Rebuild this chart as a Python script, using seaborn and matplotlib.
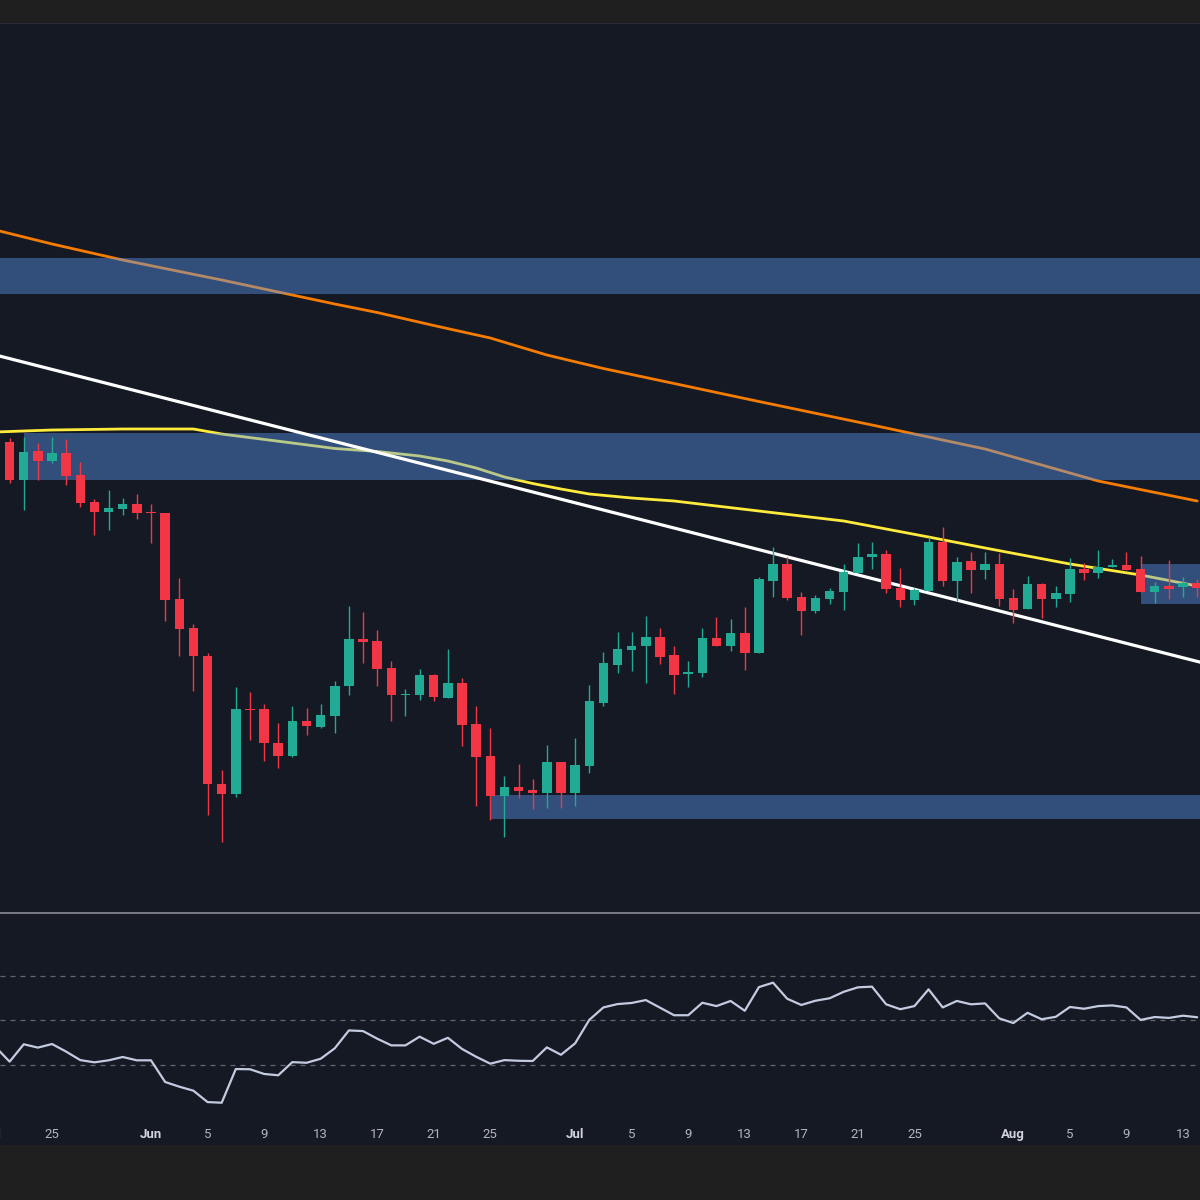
import pandas as pd
import matplotlib.pyplot as plt
import matplotlib.dates as mdates
from matplotlib.patches import Rectangle
from matplotlib.lines import Line2D
import seaborn as sns

# daily candles, May 21 -> Aug 14
dates = pd.date_range("2024-05-21", "2024-08-14", freq="D")

opens = [5.52, 5.58, 5.20, 5.49, 5.39, 5.47, 5.25, 4.98, 4.88, 4.91, 4.96, 4.88,
         4.87, 4.01, 3.72, 3.44, 2.16, 2.06, 2.91, 2.91, 2.57, 2.44, 2.79, 2.73,
         2.84, 3.14, 3.61, 3.59, 3.32, 3.05, 3.05, 3.25, 3.02, 3.17, 2.76, 2.44,
         2.04, 2.13, 2.10, 2.07, 2.38, 2.07, 2.34, 2.97, 3.35, 3.50, 3.54, 3.63,
         3.45, 3.26, 3.27, 3.62, 3.54, 3.67, 3.47, 4.19, 4.36, 4.03, 3.89, 4.01,
         4.08, 4.27, 4.43, 4.46, 4.12, 4.00, 4.09, 4.58, 4.19, 4.39, 4.30, 4.36,
         4.02, 3.91, 4.16, 4.01, 4.06, 4.31, 4.27, 4.33, 4.35, 4.31, 4.08, 4.14,
         4.13, 4.17]
highs = [5.70, 5.62, 5.63, 5.57, 5.63, 5.61, 5.38, 5.01, 5.10, 5.02, 5.06, 4.96,
         4.87, 4.22, 3.76, 3.47, 2.30, 3.13, 3.08, 2.96, 2.77, 2.94, 2.92, 2.96,
         3.19, 3.94, 3.88, 3.70, 3.39, 3.11, 3.31, 3.26, 3.51, 3.22, 2.94, 2.72,
         2.24, 2.36, 2.21, 2.55, 2.38, 2.62, 3.15, 3.48, 3.68, 3.68, 3.84, 3.72,
         3.54, 3.39, 3.72, 3.83, 3.81, 3.93, 4.23, 4.53, 4.43, 4.08, 4.05, 4.12,
         4.36, 4.57, 4.58, 4.50, 4.32, 4.12, 4.63, 4.73, 4.43, 4.48, 4.48, 4.47,
         4.11, 4.24, 4.17, 4.14, 4.42, 4.37, 4.50, 4.41, 4.48, 4.44, 4.18, 4.40,
         4.23, 4.21]
lows = [5.48, 5.17, 4.90, 5.20, 5.37, 5.15, 4.93, 4.65, 4.70, 4.85, 4.81, 4.57,
        3.79, 3.44, 3.09, 1.85, 1.58, 2.03, 2.60, 2.39, 2.32, 2.43, 2.65, 2.72,
        2.67, 3.05, 3.37, 3.14, 2.79, 2.84, 3.00, 2.99, 3.02, 2.54, 1.94, 1.80,
        1.63, 2.02, 1.91, 1.92, 1.92, 1.94, 2.27, 2.94, 3.27, 3.29, 3.17, 3.36,
        3.06, 3.13, 3.23, 3.54, 3.49, 3.30, 3.47, 4.03, 4.00, 3.65, 3.87, 3.96,
        3.90, 4.27, 4.31, 4.07, 3.93, 3.95, 4.09, 4.14, 3.99, 4.07, 4.21, 3.94,
        3.77, 3.91, 3.82, 3.93, 3.98, 4.20, 4.22, 4.33, 4.30, 4.08, 3.97, 4.01,
        4.03, 4.03]
closes = [5.62, 5.20, 5.48, 5.39, 5.47, 5.24, 4.97, 4.88, 4.92, 4.96, 4.87, 4.87,
          4.00, 3.71, 3.44, 2.16, 2.06, 2.91, 2.90, 2.57, 2.44, 2.79, 2.74, 2.85,
          3.14, 3.61, 3.58, 3.31, 3.05, 3.06, 3.25, 3.03, 3.17, 2.75, 2.43, 2.04,
          2.13, 2.09, 2.07, 2.38, 2.07, 2.35, 2.99, 3.37, 3.51, 3.54, 3.63, 3.43,
          3.25, 3.28, 3.62, 3.54, 3.67, 3.47, 4.21, 4.36, 4.02, 3.89, 4.02, 4.09,
          4.28, 4.43, 4.46, 4.11, 4.00, 4.10, 4.58, 4.19, 4.38, 4.30, 4.36, 4.01,
          3.90, 4.16, 4.01, 4.07, 4.31, 4.27, 4.33, 4.35, 4.30, 4.08, 4.14, 4.11,
          4.17, 4.12]

# moving averages
ma_fast_dates = ["2024-05-21", "2024-05-25", "2024-05-30", "2024-06-04", "2024-06-06",
                 "2024-06-11", "2024-06-14", "2024-06-17", "2024-06-20", "2024-06-22",
                 "2024-06-24", "2024-06-26", "2024-06-28", "2024-06-30", "2024-07-02",
                 "2024-07-05", "2024-07-08", "2024-07-14", "2024-07-20", "2024-07-26",
                 "2024-07-30", "2024-08-05", "2024-08-10", "2024-08-14"]
ma_fast = [5.68, 5.70, 5.71, 5.71, 5.66, 5.57, 5.515, 5.485, 5.44, 5.39,
           5.32, 5.23, 5.165, 5.11, 5.06, 5.02, 4.99, 4.89, 4.79, 4.63,
           4.52, 4.36, 4.25, 4.14]
ma_slow_dates = ["2024-05-21", "2024-05-25", "2024-05-30", "2024-06-06", "2024-06-14",
                 "2024-06-17", "2024-06-21", "2024-06-25", "2024-06-29", "2024-07-03",
                 "2024-07-07", "2024-07-10", "2024-07-14", "2024-07-22", "2024-07-26",
                 "2024-07-30", "2024-08-03", "2024-08-07", "2024-08-14"]
ma_slow = [7.70, 7.56, 7.40, 7.20, 6.96, 6.875, 6.745, 6.62, 6.45, 6.315,
           6.195, 6.105, 5.985, 5.75, 5.63, 5.51, 5.35, 5.19, 4.99]

# descending trendline (two anchors)
trend_dates = ["2024-05-21", "2024-08-15"]
trend_vals = [6.45, 3.35]

# supply / demand zones: start date, low, high (they run to the right edge)
zone_starts = ["2024-05-01", "2024-05-23", "2024-06-25", "2024-08-10"]
zone_lows = [7.06, 5.20, 1.81, 3.96]
zone_highs = [7.42, 5.67, 2.05, 4.36]

# RSI, one value per day
rsi = [38.1, 31.5, 39.3, 37.8, 39.4, 36.0, 32.2, 31.2, 32.1, 33.6, 32.1, 32.1,
       22.4, 20.3, 18.5, 13.4, 13.1, 28.2, 28.1, 26.0, 25.4, 31.3, 31.0, 32.8,
       37.5, 45.5, 45.2, 41.8, 38.8, 38.8, 42.7, 39.5, 42.2, 37.2, 33.7, 30.6,
       32.2, 31.9, 31.8, 37.9, 34.6, 39.7, 50.2, 55.8, 57.3, 57.8, 59.1, 55.7,
       52.3, 52.3, 57.9, 56.4, 58.7, 54.3, 64.9, 66.9, 59.7, 56.9, 58.8, 59.9,
       62.8, 64.8, 65.1, 57.2, 55.0, 56.4, 63.9, 55.8, 58.7, 57.2, 57.6, 50.9,
       48.8, 53.4, 50.5, 51.6, 56.0, 55.2, 56.4, 56.7, 55.8, 50.2, 51.5, 51.1,
       52.1, 51.4]
rsi_levels = [70, 50, 30]

tick_dates = ["2024-05-25", "2024-06-01", "2024-06-05", "2024-06-09",
              "2024-06-13", "2024-06-17", "2024-06-21", "2024-06-25", "2024-07-01",
              "2024-07-05", "2024-07-09", "2024-07-13", "2024-07-17", "2024-07-21",
              "2024-07-25", "2024-08-01", "2024-08-05", "2024-08-09", "2024-08-13"]
tick_labels = ["25", "Jun", "5", "9", "13", "17", "21", "25", "Jul",
               "5", "9", "13", "17", "21", "25", "Aug", "5", "9", "13"]
edge_tick_date = "2024-05-21"
edge_tick_label = "21"

BG = "#151924"
UP = "#22ab94"
DOWN = "#f23645"
TICK = "#b2b5be"

sns.set_theme(style="dark")
plt.rcParams["font.family"] = ["Roboto", "DejaVu Sans"]

fig = plt.figure(figsize=(12, 12), dpi=100, facecolor="#1f1f1f")
fig.patches.append(Rectangle((0, 1 - 1145 / 1200), 1, (1145 - 24) / 1200,
                             transform=fig.transFigure, facecolor=BG, edgecolor="none", zorder=-10))
fig.lines.append(Line2D([0, 1], [1 - 24 / 1200] * 2, transform=fig.transFigure,
                        color="#2a2e39", lw=1.5, zorder=-5))

ax = fig.add_axes([0, 1 - 912 / 1200, 1, (912 - 24) / 1200])
ax2 = fig.add_axes([0, 1 - 1120 / 1200, 1, (1120 - 913) / 1200], sharex=ax)
for a in (ax, ax2):
    a.set_facecolor(BG)
    a.grid(False)
    for s in a.spines.values():
        s.set_visible(False)

x = mdates.date2num(dates)
x0 = mdates.date2num(pd.Timestamp("2024-05-25"))
xlim = (x0 - 3.68, x0 + 81.2)

# moving averages under the zones
sns.lineplot(x=mdates.date2num(pd.to_datetime(ma_slow_dates)), y=ma_slow, ax=ax,
             color="#f57c00", lw=2.0, zorder=2)
sns.lineplot(x=mdates.date2num(pd.to_datetime(ma_fast_dates)), y=ma_fast, ax=ax,
             color="#ffeb3b", lw=2.0, zorder=2)

for start, lo, hi in zip(zone_starts, zone_lows, zone_highs):
    xs = mdates.date2num(pd.Timestamp(start))
    ax.add_patch(Rectangle((xs, lo), xlim[1] + 5 - xs, hi - lo, facecolor="#5b9cf6",
                           alpha=0.42, edgecolor="none", zorder=3))

ax.plot(mdates.date2num(pd.to_datetime(trend_dates)), trend_vals, color="white",
        lw=2.3, zorder=4, solid_capstyle="butt")

# candles
colors = [UP if c >= o else DOWN for o, c in zip(opens, closes)]
bottoms = [min(o, c) for o, c in zip(opens, closes)]
heights = [max(abs(c - o), 0.015) for o, c in zip(opens, closes)]
ax.vlines(x, lows, highs, colors=colors, lw=1.0, zorder=5)
ax.bar(x, heights, bottom=bottoms, width=0.67, color=colors, edgecolor="none", zorder=6)

ax.set_xlim(*xlim)
ax.set_ylim(0.88, 9.76)
ax.set_yticks([])
ax.set_ylabel("")
ax.tick_params(axis="x", which="both", length=0, labelbottom=False)

# RSI pane
for lvl in rsi_levels:
    ax2.axhline(lvl, color="#787b86", lw=0.9, ls=(0, (4, 4)), alpha=0.8, zorder=1)
sns.lineplot(x=x, y=rsi, ax=ax2, color="#c3cbe0", lw=1.6, zorder=3)
ax2.set_ylim(5.37, 98.1)
ax2.set_yticks([])
ax2.set_ylabel("")
ax2.spines["top"].set_visible(True)
ax2.spines["top"].set_color("#9598a1")
ax2.spines["top"].set_linewidth(1.1)

ax2.set_xticks(mdates.date2num(pd.to_datetime(tick_dates)))
ax2.set_xticklabels(tick_labels)
ax2.tick_params(axis="x", length=0, pad=6, labelsize=9.5)
for lab in ax2.get_xticklabels():
    if lab.get_text() in ("Jun", "Jul", "Aug"):
        lab.set_color("#d1d4dc")
        lab.set_fontweight("bold")
    else:
        lab.set_color(TICK)
# label just outside the left edge, partly cut off like the original
ax2.annotate(edge_tick_label, xy=(mdates.date2num(pd.Timestamp(edge_tick_date)), 0),
             xycoords=("data", "axes fraction"), xytext=(0, -6), textcoords="offset points",
             ha="center", va="top", fontsize=9.5, color=TICK, annotation_clip=False)
ax2.set_xlim(*xlim)

fig.savefig("out.png", dpi=100, facecolor=fig.get_facecolor())
